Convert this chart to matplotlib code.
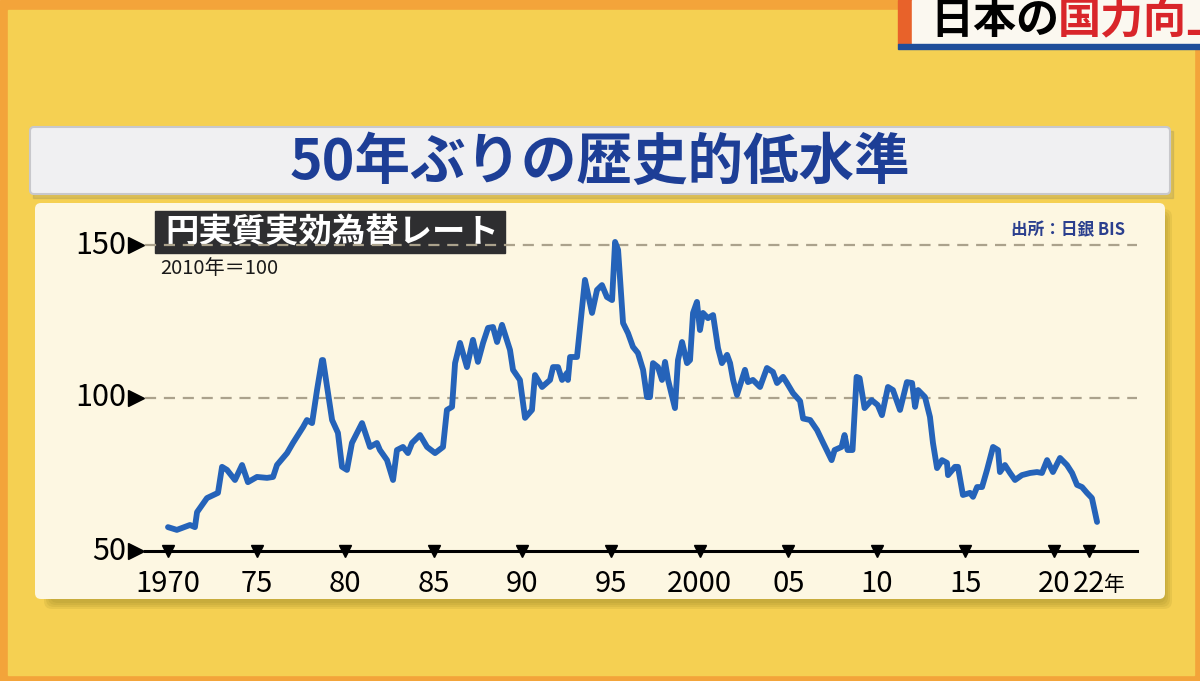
import matplotlib.pyplot as plt
from matplotlib.patches import Rectangle, FancyBboxPatch
import numpy as np

plt.rcParams['font.family'] = ['Noto Sans CJK JP', 'DejaVu Sans']

years = [1970.0, 1970.5, 1971.24, 1971.52, 1971.64, 1972.2, 1972.82, 1973.05, 1973.33, 1973.78,
         1974.18, 1974.51, 1975.02, 1975.59, 1975.93, 1976.15, 1976.72, 1977.05, 1977.62, 1977.84,
         1978.13, 1978.41, 1978.69, 1978.75, 1979.26, 1979.59, 1979.82, 1980.1, 1980.38, 1980.67,
         1980.95, 1981.4, 1981.79, 1981.96, 1982.36, 1982.7, 1982.92, 1983.26, 1983.54, 1983.77,
         1984.22, 1984.62, 1985.07, 1985.52, 1985.74, 1986.03, 1986.2, 1986.48, 1986.87, 1987.21,
         1987.49, 1987.78, 1988.06, 1988.34, 1988.57, 1988.85, 1989.3, 1989.47, 1989.86, 1990.15,
         1990.54, 1990.71, 1991.11, 1991.56, 1991.73, 1992.01, 1992.24, 1992.52, 1992.57, 1992.69,
         1993.08, 1993.53, 1993.93, 1994.21, 1994.49, 1994.77, 1995.06, 1995.23, 1995.4, 1995.68,
         1995.96, 1996.24, 1996.52, 1996.81, 1997.03, 1997.2, 1997.37, 1997.65, 1997.88, 1998.05,
         1998.22, 1998.61, 1998.78, 1999.01, 1999.29, 1999.46, 1999.63, 1999.85, 2000.02, 2000.19,
         2000.47, 2000.76, 2001.04, 2001.26, 2001.55, 2001.72, 2001.89, 2002.11, 2002.56, 2002.73,
         2003.01, 2003.41, 2003.8, 2004.14, 2004.37, 2004.71, 2004.93, 2005.27, 2005.67, 2005.84,
         2006.24, 2006.63, 2006.96, 2007.45, 2007.62, 2008.01, 2008.18, 2008.35, 2008.63, 2008.86,
         2009.03, 2009.31, 2009.71, 2010.05, 2010.29, 2010.63, 2010.91, 2011.31, 2011.7, 2011.99,
         2012.16, 2012.33, 2012.72, 2013.0, 2013.17, 2013.4, 2013.68, 2013.96, 2014.02, 2014.41,
         2014.58, 2014.86, 2015.26, 2015.43, 2015.66, 2015.94, 2016.22, 2016.56, 2016.84, 2016.95,
         2017.23, 2017.52, 2017.8, 2018.19, 2018.65, 2019.04, 2019.32, 2019.61, 2019.94, 2020.34,
         2020.73, 2021.02, 2021.3, 2021.58, 2021.86, 2022.14, 2022.43]
reer = [57.8, 56.9, 58.5, 57.8, 62.7, 67.3, 69.0, 77.5, 76.5, 73.2,
        78.1, 72.5, 74.2, 73.9, 74.2, 78.1, 82.0, 85.3, 90.5, 92.8,
        91.8, 102.6, 112.4, 112.4, 92.8, 88.6, 77.5, 76.5, 85.3, 88.6,
        91.8, 84.0, 85.3, 83.0, 79.7, 73.2, 83.0, 84.0, 82.0, 85.3,
        87.9, 84.0, 82.0, 84.0, 96.1, 97.1, 111.4, 118.0, 110.1, 119.0,
        111.8, 118.0, 122.9, 123.2, 118.3, 123.9, 115.7, 109.2, 105.9, 93.5,
        96.1, 107.5, 103.6, 105.9, 110.1, 110.1, 105.9, 108.2, 105.9, 113.4,
        113.4, 138.6, 127.8, 135.3, 136.9, 133.0, 132.0, 151.0, 148.4, 124.5,
        121.2, 116.7, 114.7, 109.2, 100.3, 100.3, 111.4, 110.1, 105.9, 111.8,
        105.9, 96.7, 112.4, 118.3, 111.4, 112.4, 127.8, 131.4, 122.2, 127.8,
        126.1, 127.1, 116.3, 111.4, 114.1, 111.4, 105.9, 101.0, 109.2, 105.2,
        105.9, 103.6, 109.8, 108.5, 104.9, 106.9, 104.9, 101.6, 99.0, 93.3,
        92.8, 89.5, 85.5, 79.7, 83.0, 84.0, 87.9, 83.0, 83.0, 106.9,
        106.5, 96.7, 99.3, 97.7, 94.4, 103.6, 102.6, 96.1, 105.2, 104.9,
        97.1, 102.6, 100.3, 93.8, 85.3, 77.1, 79.7, 78.8, 74.8, 77.5,
        77.5, 68.3, 69.0, 67.7, 70.9, 70.9, 76.5, 84.0, 83.0, 75.8,
        78.1, 75.5, 73.2, 74.8, 75.5, 75.8, 75.5, 79.7, 75.8, 80.4,
        78.1, 75.5, 71.6, 70.9, 69.0, 67.3, 59.5]

xtick_pos = [1970, 1975, 1980, 1985, 1990, 1995, 2000, 2005, 2010, 2015, 2020, 2022]
xtick_lab = ['1970', '75', '80', '85', '90', '95', '2000', '05', '10', '15', '20', '22']
ytick_pos = [50, 100, 150]

W, H = 1200, 681
fig = plt.figure(figsize=(12, 6.81), dpi=100)

# background layer in pixel coordinates (y down)
bg = fig.add_axes([0, 0, 1, 1])
bg.set_xlim(0, W)
bg.set_ylim(H, 0)
bg.axis('off')
bg.add_patch(Rectangle((0, 0), W, H, color='#F3A43A', zorder=0))
bg.add_patch(Rectangle((8, 10), W - 14, H - 16, color='#F5D052', zorder=0))

# top-right caption strip (cut off at the edge)
bg.add_patch(Rectangle((898, 0), 20, 44, color='#E8622A', zorder=1))
bg.add_patch(Rectangle((912, 0), 300, 44, color='#FBF8F0', zorder=1))
bg.add_patch(Rectangle((898, 44), 310, 5, color='#1F4E9A', zorder=2))
bg.text(930, 20, '日本の', fontsize=31, fontweight='bold', color='black', va='center', ha='left', zorder=3)
bg.text(1058, 20, '国力向上', fontsize=31, fontweight='bold', color='#D9252A', va='center', ha='left', zorder=3)

# title banner
bg.add_patch(Rectangle((33, 131), 1140, 67, color='#A89A5A', alpha=0.35, zorder=1))
bg.add_patch(FancyBboxPatch((30, 127), 1140, 67, boxstyle='round,pad=0,rounding_size=4',
                            fc='#F0F0F2', ec='#C8C8CC', lw=1.5, zorder=2))
bg.text(600, 163, '50年ぶりの歴史的低水準', fontsize=40, fontweight='bold', color='#1D3E96',
        ha='center', va='center', zorder=3)

# chart panel with a soft shadow
for i in range(4):
    bg.add_patch(FancyBboxPatch((44 + 2 * i, 209 + 2 * i), 1128 - 4 * i, 400 - 4 * i,
                                boxstyle='round,pad=0,rounding_size=8',
                                fc='#8A7A20', ec='none', alpha=0.12, zorder=1))
bg.add_patch(FancyBboxPatch((35, 203), 1130, 396, boxstyle='round,pad=0,rounding_size=6',
                            fc='#FDF7E2', ec='none', zorder=2))

# series label box
bg.add_patch(Rectangle((155, 211), 350, 42, color='#2E2E30', zorder=3))
bg.text(165, 232, '円実質実効為替レート', fontsize=24, fontweight='bold', color='white',
        ha='left', va='center', zorder=4)
bg.text(160, 268, '2010年＝100', fontsize=14.5, color='#1A1A1A', ha='left', va='center', zorder=4)
bg.text(1125, 230, '出所：日銀 BIS', fontsize=12, fontweight='bold', color='#2B3F8E',
        ha='right', va='center', zorder=4)

# data axes placed over the panel
x0_pix, px_per_year = 168, 17.72
y50_pix, px_per_unit = 551, 3.06
left_pix, right_pix, top_val = 145, 1137, 155
top_pix = y50_pix - (top_val - 50) * px_per_unit
ax = fig.add_axes([left_pix / W, (H - y50_pix) / H, (right_pix - left_pix) / W, (y50_pix - top_pix) / H])
ax.set_xlim(1970 - (x0_pix - left_pix) / px_per_year, 1970 + (right_pix - x0_pix) / px_per_year)
ax.set_ylim(50, top_val)
ax.patch.set_alpha(0)
for s in ['top', 'right', 'left']:
    ax.spines[s].set_visible(False)
ax.spines['bottom'].set_linewidth(2.2)
ax.spines['bottom'].set_color('black')

for v in ytick_pos[1:]:
    ax.axhline(v, color='#ABA28C', lw=1.6, ls=(0, (5, 3.5)), zorder=1)

ax.plot(years, reer, color='#2563B9', lw=4.2, solid_joinstyle='round', solid_capstyle='round', zorder=3)

ax.set_xticks(xtick_pos)
ax.set_xticklabels(xtick_lab, fontsize=21)
ax.tick_params(axis='x', length=0, pad=13)
ax.set_yticks([])
# 年 suffix after the last label
ax.annotate('年', (2022, 50), xytext=(15, -34), textcoords='offset pixels',
            ha='left', va='center', fontsize=15, annotation_clip=False)

# downward triangle tick marks on the axis
ax.plot(xtick_pos, [50] * len(xtick_pos), marker='v', ls='none', color='black', ms=9,
        clip_on=False, zorder=4)
x_arrow = ax.get_xlim()[0] - 9 / px_per_year
ax.plot([x_arrow] * 3, ytick_pos, marker='>', ls='none', color='black', ms=12,
        clip_on=False, zorder=4)
for v in ytick_pos:
    ax.annotate(str(v), (x_arrow, v), xytext=(-7, 0), textcoords='offset points',
                ha='right', va='center', fontsize=22, annotation_clip=False)

fig.savefig('out.png', dpi=100)
